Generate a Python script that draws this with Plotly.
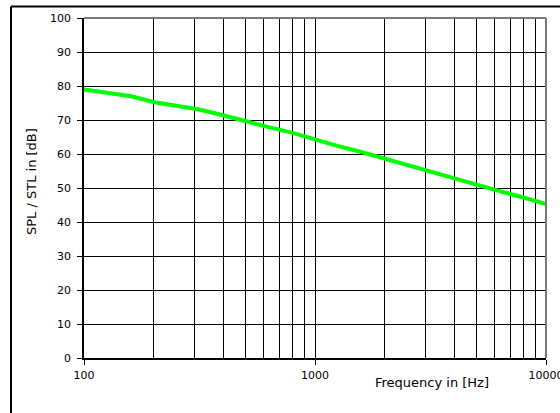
import plotly.graph_objects as go

freq_hz = [100, 125, 160, 200, 250, 315, 400, 500, 630, 800, 1000, 1250, 1600,
           2000, 2500, 3150, 4000, 5000, 6300, 8000, 10000]
level_db = [79.0, 78.0, 77.0, 75.3, 74.2, 73.1, 71.4, 69.6, 67.9, 66.2, 64.2,
            62.4, 60.5, 58.6, 56.8, 54.9, 52.7, 51.0, 49.1, 47.2, 45.3]
y_ticks = [0, 10, 20, 30, 40, 50, 60, 70, 80, 90, 100]
x_ticks = [100, 1000, 10000]
x_tick_labels = ["100", "1000", "10000"]

tick_font = dict(family="DejaVu Sans, sans-serif", size=11, color="#000")
title_font = dict(family="DejaVu Sans, sans-serif", size=13, color="#000")

W, H = 560, 413
L, R, T, B = 84, 14, 18, 55
PW, PH = W - L - R, H - T - B

fig = go.Figure()
fig.add_trace(go.Scatter(x=freq_hz, y=level_db, mode="lines",
                         line=dict(color="#00FF00", width=4), showlegend=False))

fig.update_layout(
    width=W, height=H,
    margin=dict(l=L, r=R, t=T, b=B),
    paper_bgcolor="white", plot_bgcolor="white",
    font=tick_font,
    xaxis=dict(type="log", range=[2, 4], tickvals=x_ticks, ticktext=x_tick_labels,
               showgrid=True, gridcolor="#000", gridwidth=1,
               minor=dict(showgrid=True, gridcolor="#000", gridwidth=1, dtick="D1", ticks=""),
               showline=True, linecolor="#000", linewidth=1.5,
               ticks="outside", ticklen=5, tickcolor="#000", tickwidth=1,
               zeroline=False, automargin=False, tickfont=tick_font,
               ticklabelstandoff=1, ticklabeloverflow="allow"),
    yaxis=dict(range=[0, 100], tickvals=y_ticks,
               showgrid=True, gridcolor="#000", gridwidth=1,
               showline=True, linecolor="#000", linewidth=1.5,
               ticks="outside", ticklen=5, tickcolor="#000", tickwidth=1,
               zeroline=False, automargin=False, tickfont=tick_font,
               ticklabelstandoff=4),
    shapes=[
        dict(type="line", xref="paper", yref="paper", x0=0, x1=1, y0=1, y1=1,
             line=dict(color="#7a7a7a", width=2)),
        dict(type="line", xref="paper", yref="paper", x0=1, x1=1, y0=0, y1=1,
             line=dict(color="#7a7a7a", width=2)),
        dict(type="line", xref="paper", yref="paper", x0=-73 / PW, x1=-73 / PW,
             y0=-0.3, y1=1 + 11.5 / PH, line=dict(color="#000", width=2)),
        dict(type="line", xref="paper", yref="paper", x0=-73 / PW, x1=1.2,
             y0=1 + 11.5 / PH, y1=1 + 11.5 / PH, line=dict(color="#000", width=2)),
    ],
    annotations=[
        dict(text="Frequency in [Hz]", xref="paper", yref="paper",
             x=(432 - L) / PW, y=-(382 - (H - B)) / PH, xanchor="center", yanchor="middle",
             showarrow=False, font=title_font),
        dict(text="SPL / STL in [dB]", xref="paper", yref="paper",
             x=(32 - L) / PW, y=((H - B) - 182) / PH, xanchor="center", yanchor="middle",
             textangle=-90, showarrow=False, font=title_font),
    ],
)

fig.write_html("out.html", config={"displayModeBar": False},
               post_script="document.body.style.margin='0';")
